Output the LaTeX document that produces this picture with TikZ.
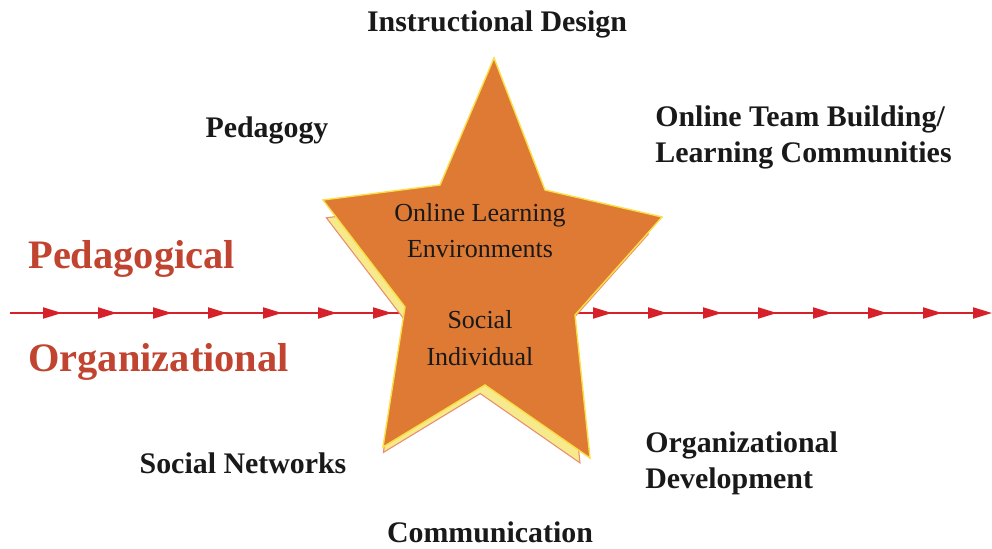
\documentclass[tikz,border=0pt]{standalone}
\usepackage{fontspec}
\setmainfont{Liberation Serif}
\usepackage{tikz}
\usetikzlibrary{arrows.meta, decorations.markings}

\definecolor{starorange}{RGB}{222,122,52}
\definecolor{starrim}{RGB}{250,222,70}
\definecolor{shadowfill}{RGB}{246,234,140}
\definecolor{shadowrim}{RGB}{234,140,110}
\definecolor{flowred}{RGB}{214,32,42}
\definecolor{axisred}{RGB}{192,68,48}

\newcommand{\starpath}{(9.88,9.80) -- (8.80,7.26) -- (6.46,6.96) -- (8.10,4.82) -- (7.66,2.02)
  -- (9.70,3.26) -- (11.80,1.80) -- (11.50,4.66) -- (13.24,6.62) -- (10.90,7.16) -- cycle}

\begin{document}
\begin{tikzpicture}[
  label/.style={font=\bfseries\fontsize{17}{20}\selectfont, text=black!90, inner sep=0pt},
  axis/.style={font=\bfseries\fontsize{23}{27}\selectfont, text=axisred, inner sep=0pt},
  core/.style={font=\fontsize{14.8}{17}\selectfont, text=black!90, inner sep=0pt},
  flow/.style={draw=flowred, line width=1.15pt, -{Triangle[length=0.38cm, width=0.22cm]},
    postaction={decorate},
    decoration={markings, mark=between positions 1.04cm and 18.7cm step 1.1cm
      with {\arrow{Triangle[length=0.38cm, width=0.22cm]}}}},
  starbody/.style={fill=starorange, draw=starrim, line width=0.8pt, line join=miter},
  starshadow/.style={fill=shadowfill, draw=shadowrim, line width=0.6pt}
]
\useasboundingbox (0,0) rectangle (19.84,10.96);

% the timeline through the star
\coordinate (lstart) at (0.2,4.70);
\coordinate (lend) at (19.84,4.70);
\draw[flow, color=flowred] (lstart) -- (lend);

% star with its shadow
\begin{scope}[shift={(-0.1,-0.256)}, scale around={0.95:(9.80,4.96)}]
  \path[starshadow] \starpath;
\end{scope}
\path[starbody] \starpath;

\node[core, anchor=base] (ole1) at (9.60,6.54) {Online Learning};
\node[core, anchor=base] (ole2) at (9.60,5.82) {Environments};
\node[core, anchor=base] (soc) at (9.60,4.40) {Social};
\node[core, anchor=base] (ind) at (9.60,3.66) {Individual};

% the two sides of the line
\node[axis, anchor=base west] (ped) at (0.56,5.60) {Pedagogical};
\node[axis, anchor=base west] (org) at (0.56,3.54) {Organizational};

% labels round the star
\node[label, anchor=base] (design) at (9.94,10.32) {Instructional Design};
\node[label, anchor=base] (pedagogy) at (5.34,8.22) {Pedagogy};
\node[label, anchor=base west] (team1) at (13.10,8.44) {Online Team Building/};
\node[label, anchor=base west] (team2) at (13.10,7.72) {Learning Communities};
\node[label, anchor=base] (networks) at (4.86,1.50) {Social Networks};
\node[label, anchor=base west] (dev1) at (12.90,1.92) {Organizational};
\node[label, anchor=base west] (dev2) at (12.90,1.20) {Development};
\node[label, anchor=base] (comm) at (9.80,0.12) {Communication};
\end{tikzpicture}
\end{document}
